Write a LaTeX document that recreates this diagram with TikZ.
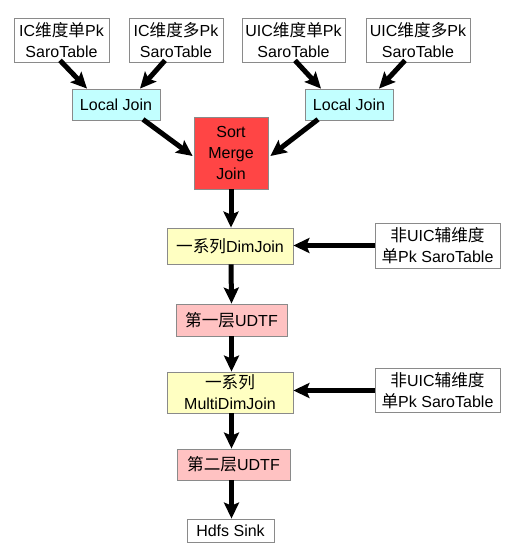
\documentclass[tikz,border=0pt]{standalone}
\usepackage{fontspec}
\setmainfont{Liberation Sans}
\newfontfamily\cjk{Noto Sans CJK SC}[Scale=1.04]
\newcommand\zh[1]{{\cjk #1}}
\usetikzlibrary{arrows.meta}
\definecolor{bordergray}{HTML}{8A8A8A}
\definecolor{ljcyan}{HTML}{C2FFFF}
\definecolor{smjred}{HTML}{FF4545}
\definecolor{djyellow}{HTML}{FFFFC2}
\definecolor{udtfpink}{HTML}{FFC2C2}
\begin{document}
\begin{tikzpicture}[x=1pt,y=-1pt,
  box/.style={draw=bordergray,line width=0.8pt,fill=white,align=center,inner sep=0pt,
    font=\fontsize{16}{21}\selectfont},
  arr/.style={line width=5pt,-{Stealth[length=16pt,width=15pt,inset=3pt]}}]
\useasboundingbox (0,0) rectangle (522,553);
\node[box,minimum width=95pt,minimum height=44pt] (t1) at (61.5,40) {IC\zh{维度单}Pk\\SaroTable};
\node[box,minimum width=94pt,minimum height=44pt] (t2) at (176,40) {IC\zh{维度多}Pk\\SaroTable};
\node[box,minimum width=103pt,minimum height=44pt] (t3) at (293.5,40) {UIC\zh{维度单}Pk\\SaroTable};
\node[box,minimum width=104pt,minimum height=44pt] (t4) at (418,40) {UIC\zh{维度多}Pk\\SaroTable};
\node[box,fill=ljcyan,minimum width=88pt,minimum height=31pt] (lj1) at (116,104.5) {Local Join};
\node[box,fill=ljcyan,minimum width=88pt,minimum height=31pt] (lj2) at (349,104.5) {Local Join};
\node[box,fill=smjred,minimum width=74pt,minimum height=72pt] (smj) at (231,153) {Sort\\Merge\\Join};
\node[box,fill=djyellow,minimum width=126pt,minimum height=36pt] (dj) at (230,246) {\zh{一系列}DimJoin};
\node[box,minimum width=125pt,minimum height=45pt] (r1) at (437.5,245.5) {\zh{非}UIC\zh{辅维度}\\\zh{单}Pk SaroTable};
\node[box,fill=udtfpink,minimum width=111pt,minimum height=32pt] (u1) at (231.5,320) {\zh{第一层}UDTF};
\node[box,fill=djyellow,minimum width=126pt,minimum height=41pt] (mdj) at (230,392.5) {\zh{一系列}\\MultiDimJoin};
\node[box,minimum width=125pt,minimum height=44pt] (r2) at (437.5,390.5) {\zh{非}UIC\zh{辅维度}\\\zh{单}Pk SaroTable};
\node[box,fill=udtfpink,minimum width=113pt,minimum height=31pt] (u2) at (233.5,464.5) {\zh{第二层}UDTF};
\node[box,minimum width=87pt,minimum height=23pt] (hs) at (230.5,530.5) {Hdfs Sink};
\draw[arr] ([xshift=-1.5pt,yshift=2pt]t1.south) -- ([xshift=-29pt]lj1.north);
\draw[arr] ([xshift=-11pt,yshift=2pt]t2.south) -- ([xshift=24pt]lj1.north);
\draw[arr] ([xshift=1.5pt,yshift=2pt]t3.south) -- ([xshift=-28pt]lj2.north);
\draw[arr] ([xshift=-13pt,yshift=2pt]t4.south) -- ([xshift=30pt]lj2.north);
\draw[arr] ([xshift=27pt,yshift=1pt]lj1.south) -- ([xshift=-1pt,yshift=-3pt]smj.west);
\draw[arr] ([xshift=-31pt,yshift=1pt]lj2.south) -- ([xshift=2pt,yshift=-3pt]smj.east);
\draw[arr] (smj.south) -- ([xshift=1pt]dj.north);
\draw[arr] (r1.west) -- (r1.west -| dj.east);
\draw[arr] ([xshift=1pt]dj.south) -- (u1.north);
\draw[arr] (u1.south) -- ([xshift=1.5pt]mdj.north);
\draw[arr] (r2.west) -- (r2.west -| mdj.east);
\draw[arr] ([xshift=1.5pt]mdj.south) -- ([xshift=-2pt]u2.north);
\draw[arr] ([xshift=-2pt]u2.south) -- ([xshift=1pt]hs.north);
\end{tikzpicture}
\end{document}
